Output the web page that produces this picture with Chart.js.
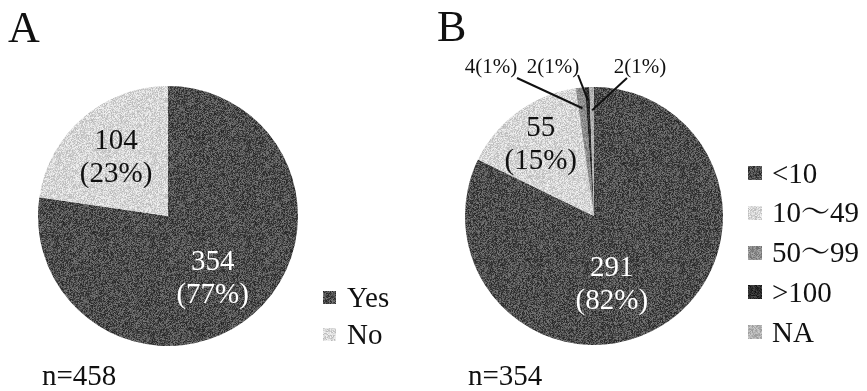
<!DOCTYPE html>
<html>
<head>
<meta charset="utf-8">
<script src="https://cdn.jsdelivr.net/npm/chart.js@4.4.1/dist/chart.umd.min.js"></script>
<style>
  html, body { margin:0; padding:0; background:#fff; }
  #wrap { position:relative; width:867px; height:391px; overflow:hidden; background:#fff; }
  canvas { position:absolute; top:0; }
  .t { position:absolute; white-space:nowrap; line-height:1; color:#111;
       font-family:"Liberation Serif","Noto Serif CJK JP","Noto Sans CJK JP",serif; }
  .box { position:absolute; }
</style>
</head>
<body>
<div id="wrap">
  <canvas id="cA" width="430" height="391" style="left:0px"></canvas>
  <canvas id="cB" width="437" height="391" style="left:430px"></canvas>
</div>
<script>
// ---------- data ----------
const panelTitles = ['A', 'B'];
const categoriesA = ['Yes', 'No'];
const valuesA = [354, 104];
const percentA = [77, 23];
const categoriesB = ['<10', '10\uFF5E49', '50\uFF5E99', '>100', 'NA'];
const valuesB = [291, 55, 4, 2, 2];
const percentB = [82, 15, 1, 1, 1];

// ---------- styles ----------
const SERIF = '"Liberation Serif","Noto Serif CJK JP","Noto Sans CJK JP",serif';
const shadesA = [[78, 44], [214, 30]];
const shadesB = [[78, 44], [214, 30], [140, 30], [45, 30], [180, 26]];

let seed = 20240611;
function lcg() { seed = (seed * 1103515245 + 12345) & 0x7fffffff; return seed / 0x7fffffff; }
function grainCanvas(base, amp) {
  const c = document.createElement('canvas'); c.width = c.height = 96;
  const g = c.getContext('2d'); const im = g.createImageData(96, 96);
  for (let i = 0; i < 96 * 96; i++) {
    let v = base + (lcg() - 0.5) * 2 * amp;
    v = Math.max(0, Math.min(255, v));
    im.data[i*4] = v; im.data[i*4+1] = v; im.data[i*4+2] = v; im.data[i*4+3] = 255;
  }
  g.putImageData(im, 0, 0);
  return c;
}
function makeFills(shades) {
  return shades.map(([b, a]) => grainCanvas(b, a));
}
const fillCanvasA = makeFills(shadesA);
const fillCanvasB = makeFills(shadesB);

const wrap = document.getElementById('wrap');
function addText(txt, left, baseline, size, extra) {
  const d = document.createElement('div');
  d.className = 't'; d.textContent = txt;
  d.style.fontSize = size + 'px';
  d.style.left = left + 'px';
  d.style.top = (baseline - 0.8375 * size) + 'px';
  if (extra) Object.assign(d.style, extra);
  wrap.appendChild(d);
  return d;
}
function addBox(fillCanvas, x, cy, size) {
  const d = document.createElement('div');
  d.className = 'box';
  d.style.left = x + 'px'; d.style.top = (cy - size / 2) + 'px';
  d.style.width = size + 'px'; d.style.height = size + 'px';
  d.style.backgroundImage = 'url(' + fillCanvas.toDataURL() + ')';
  wrap.appendChild(d);
}

// titles / n / legends
addText(panelTitles[0], 8, 43, 44);
addText(panelTitles[1], 437, 42, 44);
addText('n=' + valuesA.reduce((a, b) => a + b, 0), 42, 385, 29);
addText('n=' + valuesB.reduce((a, b) => a + b, 0), 468, 385, 29);
categoriesA.forEach((c, i) => {
  const bl = 307 + 37 * i;
  addBox(fillCanvasA[i], 323, bl - 10, 13);
  addText(c, 347, bl, 29);
});
categoriesB.forEach((c, i) => {
  const bl = 183 + 39.75 * i;
  addBox(fillCanvasB[i], 748, bl - 10, 14);
  addText(c, 772, bl, 29);
});

// ---------- label plugin ----------
function pt(cx, cy, r, ang) { // ang: chart.js radians
  return [cx + r * Math.cos(ang), cy + r * Math.sin(ang)];
}
const labelPlugin = {
  id: 'sliceLabels',
  afterDatasetsDraw(chart, args, opts) {
    const ctx = chart.ctx;
    const meta = chart.getDatasetMeta(0);
    const vals = chart.data.datasets[0].data;
    const pcts = opts.percents;
    ctx.save();
    meta.data.forEach((arc, i) => {
      const p = arc.getProps(['x', 'y', 'startAngle', 'endAngle', 'outerRadius']);
      const mid = (p.startAngle + p.endAngle) / 2;
      const cfg = opts.inside[i];
      if (cfg) {
        const [mx, my] = pt(p.x, p.y, p.outerRadius * cfg.f, mid + (cfg.da || 0));
        ctx.font = '29px ' + SERIF;
        ctx.fillStyle = cfg.color;
        ctx.textAlign = 'center';
        ctx.textBaseline = 'alphabetic';
        ctx.fillText(String(vals[i]), mx, my - 7);
        ctx.fillText('(' + pcts[i] + '%)', mx, my + 26);
      }
      const oc = opts.outside && opts.outside[i];
      if (oc) {
        ctx.font = '21px ' + SERIF;
        ctx.fillStyle = '#111';
        ctx.textAlign = 'center';
        ctx.textBaseline = 'alphabetic';
        const tx = p.x + oc.dx, ty = p.y + oc.dy;
        ctx.fillText(vals[i] + '(' + pcts[i] + '%)', tx, ty);
        const [ex, ey] = pt(p.x, p.y, p.outerRadius * oc.f, mid);
        ctx.strokeStyle = '#111';
        ctx.lineWidth = 2;
        ctx.beginPath();
        ctx.moveTo(p.x + oc.lx, p.y + oc.ly);
        ctx.lineTo(ex, ey);
        ctx.stroke();
      }
    });
    ctx.restore();
  }
};

function makePie(id, values, fills, pad, pluginOpts) {
  const c = document.getElementById(id);
  const ctx = c.getContext('2d');
  return new Chart(ctx, {
    type: 'pie',
    data: {
      labels: values.map((_, i) => i),
      datasets: [{
        data: values,
        backgroundColor: fills.map(f => ctx.createPattern(f, 'repeat')),
        borderWidth: 0
      }]
    },
    options: {
      responsive: false,
      animation: false,
      devicePixelRatio: 1,
      layout: { padding: pad },
      plugins: { legend: { display: false }, tooltip: { enabled: false }, sliceLabels: pluginOpts }
    },
    plugins: [labelPlugin]
  });
}

makePie('cA', valuesA, fillCanvasA,
  { left: 38, top: 86, right: 132, bottom: 45 },
  { percents: percentA,
    inside: [ { f: 0.58, da: 0.08, color: '#fff' }, { f: 0.61, color: '#111' } ] });

makePie('cB', valuesB, fillCanvasB,
  { left: 35, top: 87, right: 144, bottom: 46 },
  { percents: percentB,
    inside: [ { f: 0.54, da: 0.3, color: '#fff' }, { f: 0.70, color: '#111' }, null, null, null ],
    outside: [ null, null,
      { dx: -103, dy: -143, lx: -77, ly: -138, f: 0.84 },
      { dx: -41, dy: -143, lx: -16, ly: -141, f: 0.90 },
      { dx: 46, dy: -143, lx: 33, ly: -138, f: 0.82 } ] });
</script>
</body>
</html>
